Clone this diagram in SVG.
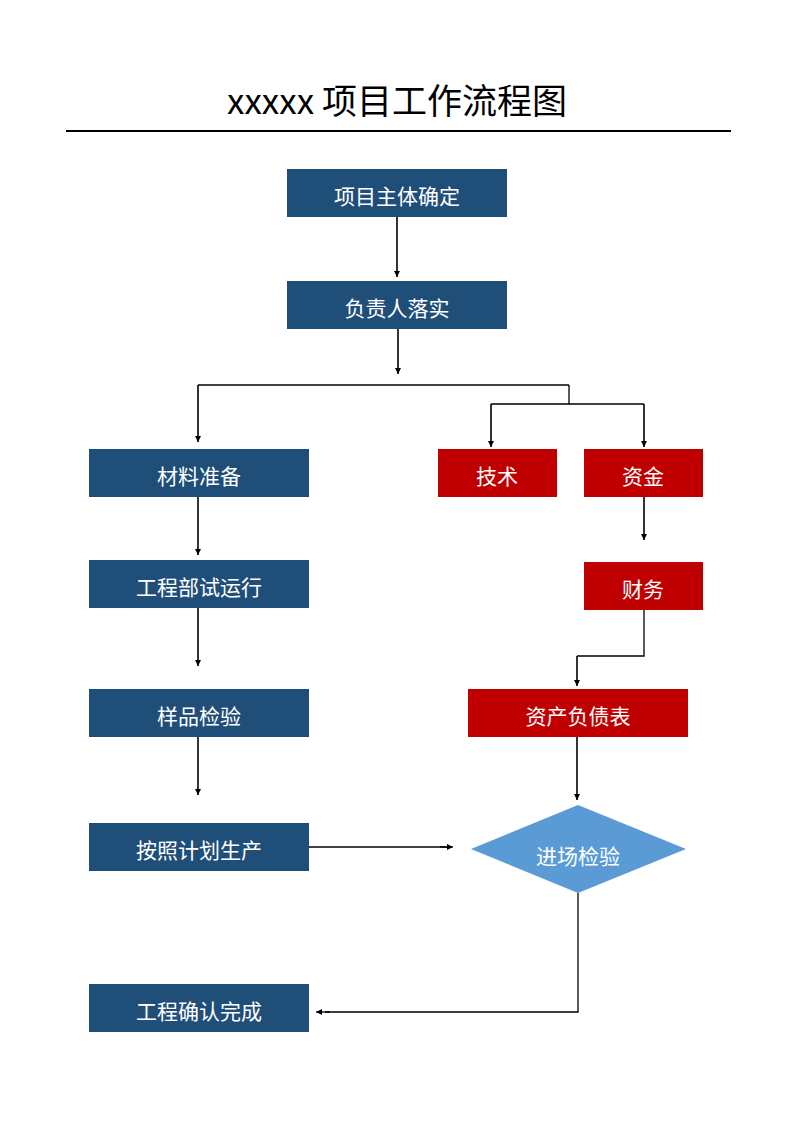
<svg xmlns="http://www.w3.org/2000/svg" width="794" height="1123" viewBox="0 0 794 1123">
<style>
.t{font-family:"Noto Sans CJK SC","Microsoft YaHei",sans-serif;font-size:21px;fill:#fff;text-anchor:middle}
.b{fill:#1F4E79}
.r{fill:#C00000}
.c{fill:none;stroke:#000;stroke-width:1.3}
.ca{fill:none;stroke:#000;stroke-width:1.6;marker-end:url(#ah)}
</style>
<defs>
<marker id="ah" viewBox="0 0 10 10" refX="10" refY="5" markerWidth="6" markerHeight="6" orient="auto" markerUnits="userSpaceOnUse"><path d="M0,0 L10,5 L0,10 z" fill="#000"/></marker>
</defs>
<rect width="794" height="1123" fill="#fff"/>
<g id="title">
<text x="397" y="114" style="font-family:'Noto Sans CJK SC','Microsoft YaHei',sans-serif;font-size:35px;fill:#000;text-anchor:middle">xxxxx 项目工作流程图</text>
<line x1="66" y1="131" x2="731" y2="131" stroke="#000" stroke-width="2"/>
</g>
<g id="connectors">
<path class="ca" d="M397,217 V277"/>
<path class="ca" d="M398,329 V374"/>
<path class="c" d="M569,385 H198"/>
<path class="ca" d="M198,385 V442"/>
<path class="c" d="M569,385 V404 H491"/>
<path class="ca" d="M491,404 V447"/>
<path class="c" d="M569,404 H644"/>
<path class="ca" d="M644,404 V447"/>
<path class="ca" d="M644,497 V540"/>
<path class="c" d="M644,610 V656 H577"/>
<path class="ca" d="M577,656 V686"/>
<path class="ca" d="M198,497 V555"/>
<path class="ca" d="M198,608 V666"/>
<path class="ca" d="M198,737 V795"/>
<path class="ca" d="M577,737 V800"/>
<path class="c" d="M309,847 H447" />
<path class="ca" d="M440,847 H453" style="stroke-width:1.3"/>
<path class="c" d="M578,893 V1012 H325"/>
<path class="ca" d="M330,1012 H316" style="stroke-width:1.3"/>
</g>
<g id="n1"><rect class="b" x="287" y="169" width="220" height="48"/><text class="t" x="397" y="204">项目主体确定</text></g>
<g id="n2"><rect class="b" x="287" y="281" width="220" height="48"/><text class="t" x="397" y="316">负责人落实</text></g>
<g id="n3"><rect class="b" x="89" y="449" width="220" height="48"/><text class="t" x="199" y="484">材料准备</text></g>
<g id="n4"><rect class="r" x="438" y="449" width="119" height="48"/><text class="t" x="497" y="484">技术</text></g>
<g id="n5"><rect class="r" x="584" y="449" width="119" height="48"/><text class="t" x="643" y="484">资金</text></g>
<g id="n6"><rect class="b" x="89" y="560" width="220" height="48"/><text class="t" x="199" y="595">工程部试运行</text></g>
<g id="n7"><rect class="r" x="584" y="562" width="119" height="48"/><text class="t" x="643" y="597">财务</text></g>
<g id="n8"><rect class="b" x="89" y="689" width="220" height="48"/><text class="t" x="199" y="724">样品检验</text></g>
<g id="n9"><rect class="r" x="468" y="689" width="220" height="48"/><text class="t" x="578" y="724">资产负债表</text></g>
<g id="n10"><rect class="b" x="89" y="823" width="220" height="48"/><text class="t" x="199" y="858">按照计划生产</text></g>
<g id="n11"><polygon points="578,805 686,849 578,893 471,849" fill="#5B9BD5"/><text class="t" x="578" y="864">进场检验</text></g>
<g id="n12"><rect class="b" x="89" y="984" width="220" height="48"/><text class="t" x="199" y="1019">工程确认完成</text></g>
</svg>
